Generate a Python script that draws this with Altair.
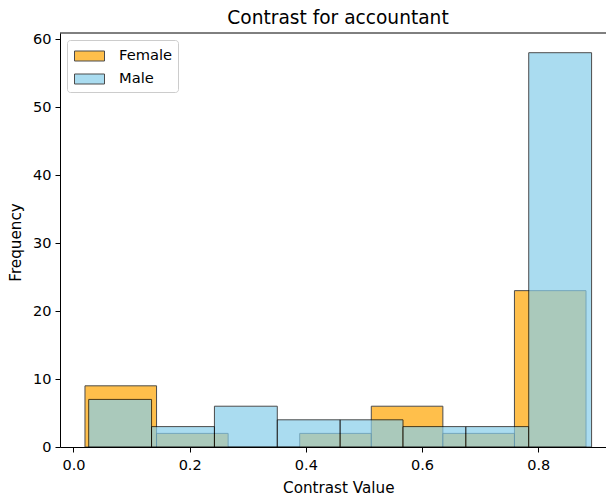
import altair as alt
import pandas as pd

# Female histogram bins
female_edges = [0.0198, 0.1430, 0.2662, 0.3894, 0.5126, 0.6358, 0.7590, 0.8822]
female_counts = [9, 2, 0, 2, 6, 2, 23]

# Male histogram bins
male_edges = [0.0262, 0.1344, 0.2426, 0.3508, 0.4590, 0.5672, 0.6754, 0.7836, 0.8918]
male_counts = [7, 3, 6, 4, 4, 3, 3, 58]

groups = ["Female", "Male"]
colors = ["#FFA500", "#87CEEB"]

x_ticks = [0.0, 0.2, 0.4, 0.6, 0.8]
y_ticks = [0, 10, 20, 30, 40, 50, 60]


def frame(edges, counts, name):
    return pd.DataFrame({
        "start": edges[:-1],
        "end": edges[1:],
        "count": counts,
        "zero": [0] * len(counts),
        "sex": [name] * len(counts),
    })


df_f = frame(female_edges, female_counts, "Female")
df_m = frame(male_edges, male_counts, "Male")

FONT = "DejaVu Sans"
W = 546
H = 414

xscale = alt.Scale(domain=[-0.0232, 0.9166], nice=False, zero=False)
yscale = alt.Scale(domain=[0, 60.9], nice=False)
cscale = alt.Scale(domain=groups, range=colors)

legend_path = "M-1.5,-0.5H1.5V0.5H-1.5Z"

xaxis = alt.Axis(values=x_ticks, format=".1f", title="Contrast Value",
                 labelPadding=6, titleX=278.3, titleY=45.5,
                 titleAlign="center", titleBaseline="alphabetic")
yaxis = alt.Axis(values=y_ticks, format="d", title="Frequency",
                 labelPadding=4, titleX=-40, titleY=209, titleAngle=-90,
                 titleAlign="center", titleBaseline="alphabetic")
legend = alt.Legend(
    orient="top-left", offset=7,
    symbolType=legend_path, symbolSize=400,
    symbolOpacity=0.7, symbolStrokeColor="black",
    symbolStrokeWidth=1, symbolOffset=6.5,
    labelOffset=19, labelFontSize=14.7, labelFont=FONT,
    labelColor="black",
    padding=5.5, rowPadding=5,
    fillColor="white", strokeColor="#cccccc",
    cornerRadius=3,
)


def bars(df):
    return alt.Chart(df).mark_rect(
        opacity=0.7, stroke="black", strokeWidth=1
    ).encode(
        x=alt.X("start:Q", scale=xscale, axis=xaxis),
        x2="end:Q",
        y=alt.Y("count:Q", scale=yscale, axis=yaxis),
        y2="zero:Q",
        color=alt.Color("sex:N", scale=cscale, title=None, legend=legend),
    )


top_line = alt.Chart(pd.DataFrame({"a": [0]})).mark_rule(color="black", strokeWidth=1).encode(
    y=alt.value(0), x=alt.value(0), x2=alt.value(W)
)

chart = alt.layer(bars(df_f), bars(df_m), top_line).properties(
    width=W,
    height=H,
    title=alt.TitleParams("Contrast for accountant", fontSize=18.6, font=FONT,
                          fontWeight="normal", color="black", anchor="middle",
                          frame="group", offset=4, dx=5),
    autosize=alt.AutoSizeParams(type="none"),
    padding={"left": 52, "top": 25, "right": 0, "bottom": 53},
).configure_view(stroke=None).configure_axis(
    grid=False,
    domainColor="black",
    tickColor="black",
    tickSize=5,
    labelFont=FONT,
    labelFontSize=14.5,
    labelColor="black",
    titleFont=FONT,
    titleFontSize=15.2,
    titleFontWeight="normal",
    titleColor="black",
)

chart.save("out.html", embed_options={"renderer": "svg", "actions": False})
